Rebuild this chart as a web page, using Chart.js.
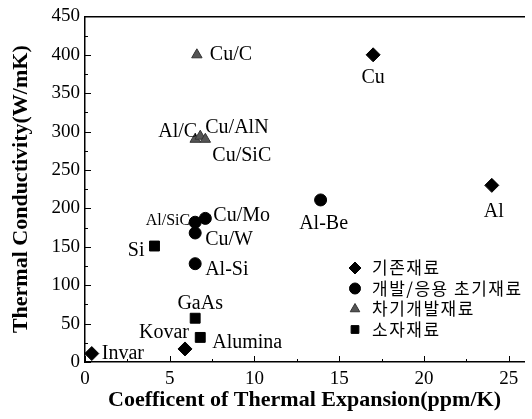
<!DOCTYPE html>
<html>
<head>
<meta charset="utf-8">
<script src="https://cdn.jsdelivr.net/npm/chart.js"></script>
<style>
  html, body { margin: 0; padding: 0; background: #fff; }
  canvas { display: block; }
</style>
</head>
<body>
<canvas id="cteChart" width="532" height="419"></canvas>
<script>
// Series names (legend text)
const seriesNames = ['기존재료', '개발/응용 초기재료', '차기개발재료', '소자재료'];

// 기존재료 (existing materials)
const existingNames = ['Invar', 'Kovar', 'Cu', 'Al'];
const existingCte = [0.4, 5.9, 17, 24];
const existingK = [11, 17, 400, 230];

// 개발/응용 초기재료 (early development / application)
const earlyNames = ['Al/SiC', 'Cu/Mo', 'Cu/W', 'Al-Si', 'Al-Be'];
const earlyCte = [6.5, 7.1, 6.5, 6.5, 13.9];
const earlyK = [182, 187, 168, 128, 211];

// 차기개발재료 (next generation)
const nextNames = ['Cu/C', 'Al/C', 'Cu/AlN', 'Cu/SiC'];
const nextCte = [6.6, 6.5, 6.8, 7.1];
const nextK = [400, 290, 294, 290];

// 소자재료 (device materials)
const deviceNames = ['Si', 'GaAs', 'Alumina'];
const deviceCte = [4.1, 6.5, 6.8];
const deviceK = [151, 57, 32];

// Axis ticks
const xTicks = [0, 5, 10, 15, 20, 25];
const yTicks = [0, 50, 100, 150, 200, 250, 300, 350, 400, 450];

// Label placement around each marker (style only)
const labelPlacement = {
    'Invar':   { dx: 10, dy: 0, align: 'left' },
    'Kovar':   { dx: 4, dy: -16, align: 'right' },
    'Cu':      { dx: 0, dy: 23, align: 'center' },
    'Al':      { dx: 2, dy: 26, align: 'center' },
    'Al/SiC':  { dx: -5, dy: -1, align: 'right', small: true },
    'Cu/Mo':   { dx: 8, dy: -3, align: 'left' },
    'Cu/W':    { dx: 10, dy: 7, align: 'left' },
    'Al-Si':   { dx: 10, dy: 6, align: 'left' },
    'Al-Be':   { dx: 3, dy: 24, align: 'center' },
    'Cu/C':    { dx: 13, dy: 0, align: 'left' },
    'Al/C':    { dx: 2, dy: -8, align: 'right' },
    'Cu/AlN':  { dx: 5, dy: -8, align: 'left' },
    'Cu/SiC':  { dx: 7, dy: 16, align: 'left' },
    'Si':      { dx: -10, dy: 5, align: 'right' },
    'GaAs':    { dx: 5, dy: -14, align: 'center' },
    'Alumina': { dx: 12, dy: 5, align: 'left' },
};

const serif = "'Liberation Serif', 'Times New Roman', serif";
const korean = "'Noto Sans CJK KR', 'Noto Sans', sans-serif";

function toPoints(xs, ys) {
    return xs.map((x, i) => ({ x: x, y: ys[i] }));
}

const pointNames = [existingNames, earlyNames, nextNames, deviceNames];

const chartData = {
    datasets: [
        {
            label: seriesNames[0],
            data: toPoints(existingCte, existingK),
            pointStyle: 'rectRot',
            pointRadius: 7,
            backgroundColor: '#000',
            borderColor: '#000',
            borderWidth: 1,
        },
        {
            label: seriesNames[1],
            data: toPoints(earlyCte, earlyK),
            pointStyle: 'circle',
            pointRadius: 6,
            backgroundColor: '#000',
            borderColor: '#000',
            borderWidth: 1,
        },
        {
            label: seriesNames[2],
            data: toPoints(nextCte, nextK),
            pointStyle: 'triangle',
            pointRadius: 6,
            backgroundColor: '#555',
            borderColor: '#333',
            borderWidth: 1,
        },
        {
            label: seriesNames[3],
            data: toPoints(deviceCte, deviceK),
            pointStyle: 'rect',
            pointRadius: 7,
            backgroundColor: '#000',
            borderColor: '#000',
            borderWidth: 1,
        },
    ],
};

// Inward tick marks, point labels and the in-plot legend
const decorPlugin = {
    id: 'decor',
    afterDraw(chart) {
        const ctx = chart.ctx;
        const area = chart.chartArea;
        const xs = chart.scales.x;
        const ys = chart.scales.y;
        ctx.save();
        ctx.strokeStyle = '#000';
        ctx.lineWidth = 1;
        // x ticks (major every 5, minor every 2.5)
        for (let v = 0; v <= 25; v += 2.5) {
            const px = Math.round(xs.getPixelForValue(v)) + 0.5;
            const len = (v % 5 === 0) ? 6 : 3;
            ctx.beginPath();
            ctx.moveTo(px, area.bottom);
            ctx.lineTo(px, area.bottom - len);
            ctx.stroke();
        }
        // y ticks (major every 50, minor every 25)
        for (let v = 0; v <= 450; v += 25) {
            const py = Math.round(ys.getPixelForValue(v)) + 0.5;
            const len = (v % 50 === 0) ? 6 : 3;
            ctx.beginPath();
            ctx.moveTo(area.left, py);
            ctx.lineTo(area.left + len, py);
            ctx.stroke();
        }

        // point labels
        ctx.fillStyle = '#000';
        ctx.textBaseline = 'middle';
        chart.data.datasets.forEach((ds, i) => {
            const meta = chart.getDatasetMeta(i);
            meta.data.forEach((el, j) => {
                const name = pointNames[i][j];
                const p = labelPlacement[name];
                ctx.font = (p.small ? '16px ' : '20px ') + serif;
                ctx.textAlign = p.align;
                ctx.fillText(name, el.x + p.dx, el.y + p.dy);
            });
        });

        // legend inside the plot
        const legendX = 355;
        const legendY = 268;
        const rowGap = 20.5;
        const legendSizes = [6, 5.5, 5.5, 5.5];
        chart.data.datasets.forEach((ds, i) => {
            const y = legendY + i * rowGap;
            if (Chart.helpers && Chart.helpers.drawPoint) {
                ctx.fillStyle = ds.backgroundColor;
                ctx.strokeStyle = ds.borderColor;
                ctx.lineWidth = 1;
                Chart.helpers.drawPoint(ctx, {
                    pointStyle: ds.pointStyle,
                    radius: legendSizes[i],
                    borderWidth: 1,
                    rotation: 0,
                }, legendX, y);
            }
            ctx.fillStyle = '#000';
            ctx.textAlign = 'left';
            ctx.font = '17px ' + korean;
            ctx.letterSpacing = '1.5px';
            ctx.fillText(ds.label, legendX + 17, y);
            ctx.letterSpacing = '0px';
        });
        ctx.restore();
    },
};

const chartConfig = {
    type: 'scatter',
    data: chartData,
    options: {
        responsive: false,
        animation: false,
        layout: {
            padding: { top: 13, right: 0, bottom: 0, left: 0 },
        },
        plugins: {
            legend: { display: false },
            tooltip: { enabled: false },
        },
        scales: {
            x: {
                type: 'linear',
                position: 'bottom',
                min: 0,
                max: 25.9,
                afterBuildTicks: (scale) => {
                    scale.ticks = xTicks.map(v => ({ value: v }));
                },
                afterFit: (scale) => {
                    scale.height = 57;
                    scale.paddingRight = 0;
                    scale.paddingLeft = 0;
                },
                grid: { display: false, drawTicks: false },
                border: { display: true, color: '#000', width: 1.5 },
                ticks: {
                    color: '#000',
                    padding: 6,
                    maxRotation: 0,
                    font: { family: serif, size: 19 },
                },
                title: {
                    display: true,
                    text: 'Coefficent of Thermal Expansion(ppm/K)',
                    color: '#000',
                    font: { family: serif, size: 22, weight: 'bold' },
                    padding: { top: 0, bottom: 5 },
                },
            },
            xTop: {
                type: 'linear',
                position: 'top',
                min: 0,
                max: 25.9,
                afterFit: (scale) => {
                    scale.height = 0;
                },
                grid: { display: false, drawTicks: false },
                border: { display: true, color: '#000', width: 1.5 },
                ticks: { display: false },
            },
            y: {
                type: 'linear',
                position: 'left',
                min: 0,
                max: 450,
                afterBuildTicks: (scale) => {
                    scale.ticks = yTicks.map(v => ({ value: v }));
                },
                afterFit: (scale) => {
                    scale.width = 85;
                },
                grid: { display: false, drawTicks: false },
                border: { display: true, color: '#000', width: 1.5 },
                ticks: {
                    color: '#000',
                    padding: 5,
                    font: { family: serif, size: 19 },
                },
                title: {
                    display: true,
                    text: 'Thermal Conductivity(W/mK)',
                    color: '#000',
                    font: { family: serif, size: 22, weight: 'bold' },
                    padding: { top: 8, bottom: 0 },
                },
            },
        },
    },
    plugins: [decorPlugin],
};

const ctx = document.getElementById('cteChart').getContext('2d');
const cteChart = new Chart(ctx, chartConfig);
</script>
</body>
</html>
